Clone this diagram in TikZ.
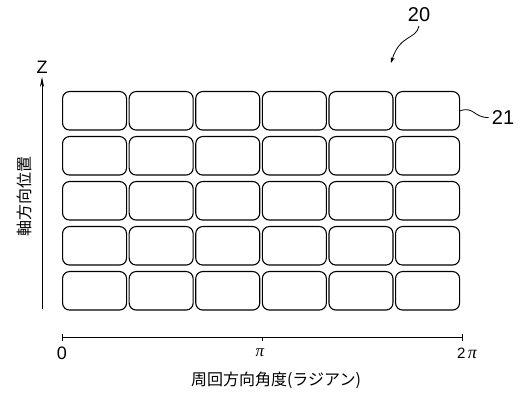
\documentclass[tikz,border=0pt]{standalone}
\usepackage{fontspec}
\setmainfont{Noto Sans CJK JP}
\newfontfamily\digitfont{Liberation Sans}
\newfontfamily\pifont{Liberation Serif}
\usetikzlibrary{arrows.meta}
\begin{document}
\begin{tikzpicture}[x=1pt,y=-1pt,
  cell/.style={draw, line width=1.1pt, rounded corners=7pt, minimum width=64pt, minimum height=38.5pt, inner sep=0pt, anchor=north west},
  lbl/.style={inner sep=0pt},
  thinline/.style={line width=0.8pt}]
\useasboundingbox (0,0) rectangle (522,403);
\foreach \r in {0,...,4}
  \foreach \c in {0,...,5}
    \node[cell] (c\r\c) at ({62+66.6*\c},{91+45*\r}) {};
% Z axis
\coordinate (zb) at (42,309);
\coordinate (zt) at (42,77);
\draw[thinline,-{Stealth[length=10pt,width=4pt]}] (zb) -- (zt);
\node[lbl,font=\digitfont\fontsize{18}{18}\selectfont] (zl) at (42,67) {Z};
\node[lbl,rotate=90,font=\fontsize{16}{16}\selectfont] (yl) at (24,197) {軸方向位置};
% theta axis
\coordinate (a0) at (62,337);
\coordinate (a1) at (262,337);
\coordinate (a2) at (462,337);
\draw[thinline] (a0) -- (a2);
\draw[thinline] ([yshift=-4pt]a0) -- ([yshift=3pt]a0);
\draw[thinline] ([yshift=-4pt]a1) -- (a1);
\draw[thinline] ([yshift=-4pt]a2) -- ([yshift=3pt]a2);
\node[lbl,font=\digitfont\fontsize{18}{18}\selectfont] (t0) at (62,353) {0};
\node[lbl,font=\pifont\itshape\fontsize{17}{17}\selectfont] (t1) at (260,353) {π};
\node[lbl,font=\digitfont\fontsize{15}{15}\selectfont] (t2) at (467,353) {2\,{\pifont\itshape\fontsize{18}{18}\selectfont π}};
\node[lbl,font=\fontsize{16}{16}\selectfont] (xl) at (276,380) {周回方向角度(ラジアン)};
% reference 20
\node[lbl,font=\digitfont\fontsize{20}{20}\selectfont] (n20) at (419,14.5) {20};
\coordinate (p20) at (391,63);
\draw[thinline,-{Stealth[length=6pt,width=4pt]}] (419,26) .. controls (416,40) and (400,34) .. (p20);
% reference 21
\node[lbl,font=\digitfont\fontsize{20}{20}\selectfont] (n21) at (503,117.5) {21};
\draw[thinline] (c05.east) .. controls (474,106) and (474,118) .. ([xshift=-3pt]n21.west);
\end{tikzpicture}
\end{document}
